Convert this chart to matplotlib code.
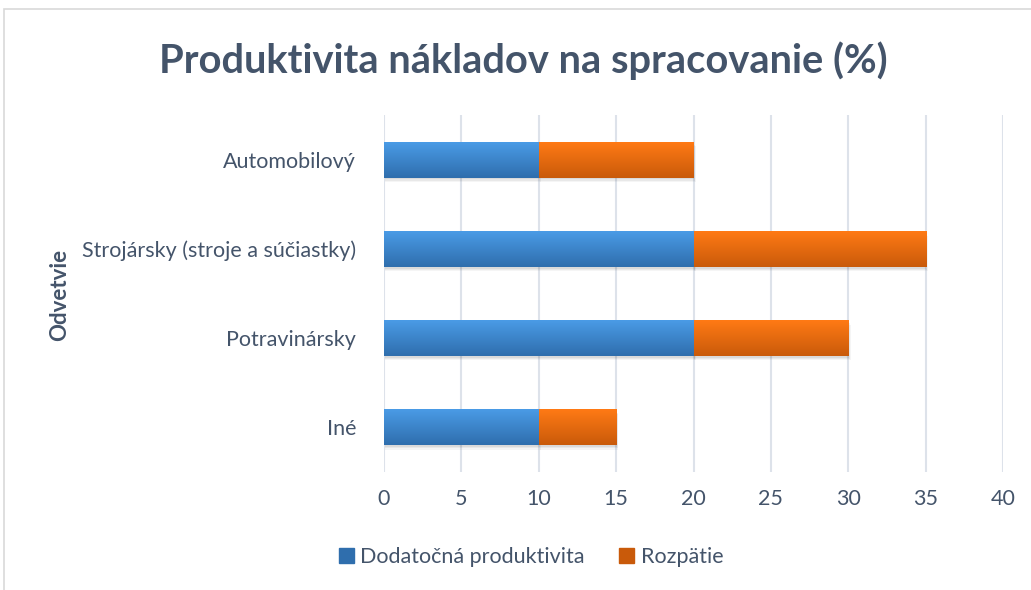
import matplotlib.pyplot as plt
import numpy as np
from matplotlib.patches import Rectangle
from matplotlib.colors import LinearSegmentedColormap

plt.rcParams['font.family'] = ['Lato', 'DejaVu Sans']

categories = ['Iné', 'Potravinársky', 'Strojársky (stroje a súčiastky)', 'Automobilový']
dodatocna = [10, 20, 20, 10]
rozpatie = [5, 10, 15, 10]
series_names = ['Dodatočná produktivita', 'Rozpätie']
ticks = [0, 5, 10, 15, 20, 25, 30, 35, 40]

txt = '#44546A'
blue_top, blue_bot = '#4A9BE6', '#2F6EAD'
orng_top, orng_bot = '#FF7A15', '#C95A0A'

fig = plt.figure(figsize=(10.31, 5.90), dpi=100)
ax = fig.add_axes([0.3725, 0.2, 0.6003, 0.605])

# chart frame
fig.patches.append(Rectangle((4 / 1031, -0.01), 1.1, 1 - 9 / 590 + 0.01, transform=fig.transFigure,
                             fill=False, edgecolor='#D9D9D9', linewidth=1.2, zorder=0))

ypos = np.arange(len(categories))
h = 0.40
grad = np.linspace(0, 1, 100).reshape(-1, 1)

def grad_bar(x0, w, y, c_top, c_bot):
    cmap = LinearSegmentedColormap.from_list('g', [c_top, c_bot])
    # soft shadow under the bar
    for k, a in enumerate([0.06, 0.05, 0.04]):
        ax.add_patch(Rectangle((x0 + 0.05, y - h / 2 - 0.02 - 0.015 * k), w + 0.05 * k, h, color='#000000',
                               alpha=a, linewidth=0, zorder=2))
    ax.imshow(grad, cmap=cmap, aspect='auto', extent=(x0, x0 + w, y - h / 2, y + h / 2),
              zorder=3, interpolation='bicubic')

for i, y in enumerate(ypos):
    grad_bar(0, dodatocna[i], y, blue_top, blue_bot)
    grad_bar(dodatocna[i], rozpatie[i], y, orng_top, orng_bot)

ax.set_xlim(0, 40)
ax.set_ylim(-0.5, 3.5)
ax.set_xticks(ticks)
ax.set_yticks(ypos)
ax.set_yticklabels(categories)
ax.tick_params(axis='both', length=0, labelsize=15.5, labelcolor=txt)
ax.tick_params(axis='x', pad=12)
ax.tick_params(axis='y', pad=20)
ax.grid(axis='x', color='#DDE2EA', linewidth=1.5, zorder=0)
ax.set_axisbelow(True)
for s in ax.spines.values():
    s.set_visible(False)

fig.text(0.508, 0.898, 'Produktivita nákladov na spracovanie (%)', ha='center', va='center',
         fontsize=28.7, fontweight='bold', color=txt)
fig.text(0.058, 0.5, 'Odvetvie', rotation=90, ha='center', va='center',
         fontsize=16, fontweight='bold', color=txt)

handles = [Rectangle((0, 0), 1, 1, color=blue_bot), Rectangle((0, 0), 1, 1, color=orng_bot)]
fig.legend(handles, series_names, loc='center', bbox_to_anchor=(0.515, 0.056), ncol=2,
           frameon=False, fontsize=15.5, labelcolor=txt, handlelength=0.7, handleheight=0.7,
           handletextpad=0.3, columnspacing=1.6)

fig.savefig('out.png', dpi=100)
